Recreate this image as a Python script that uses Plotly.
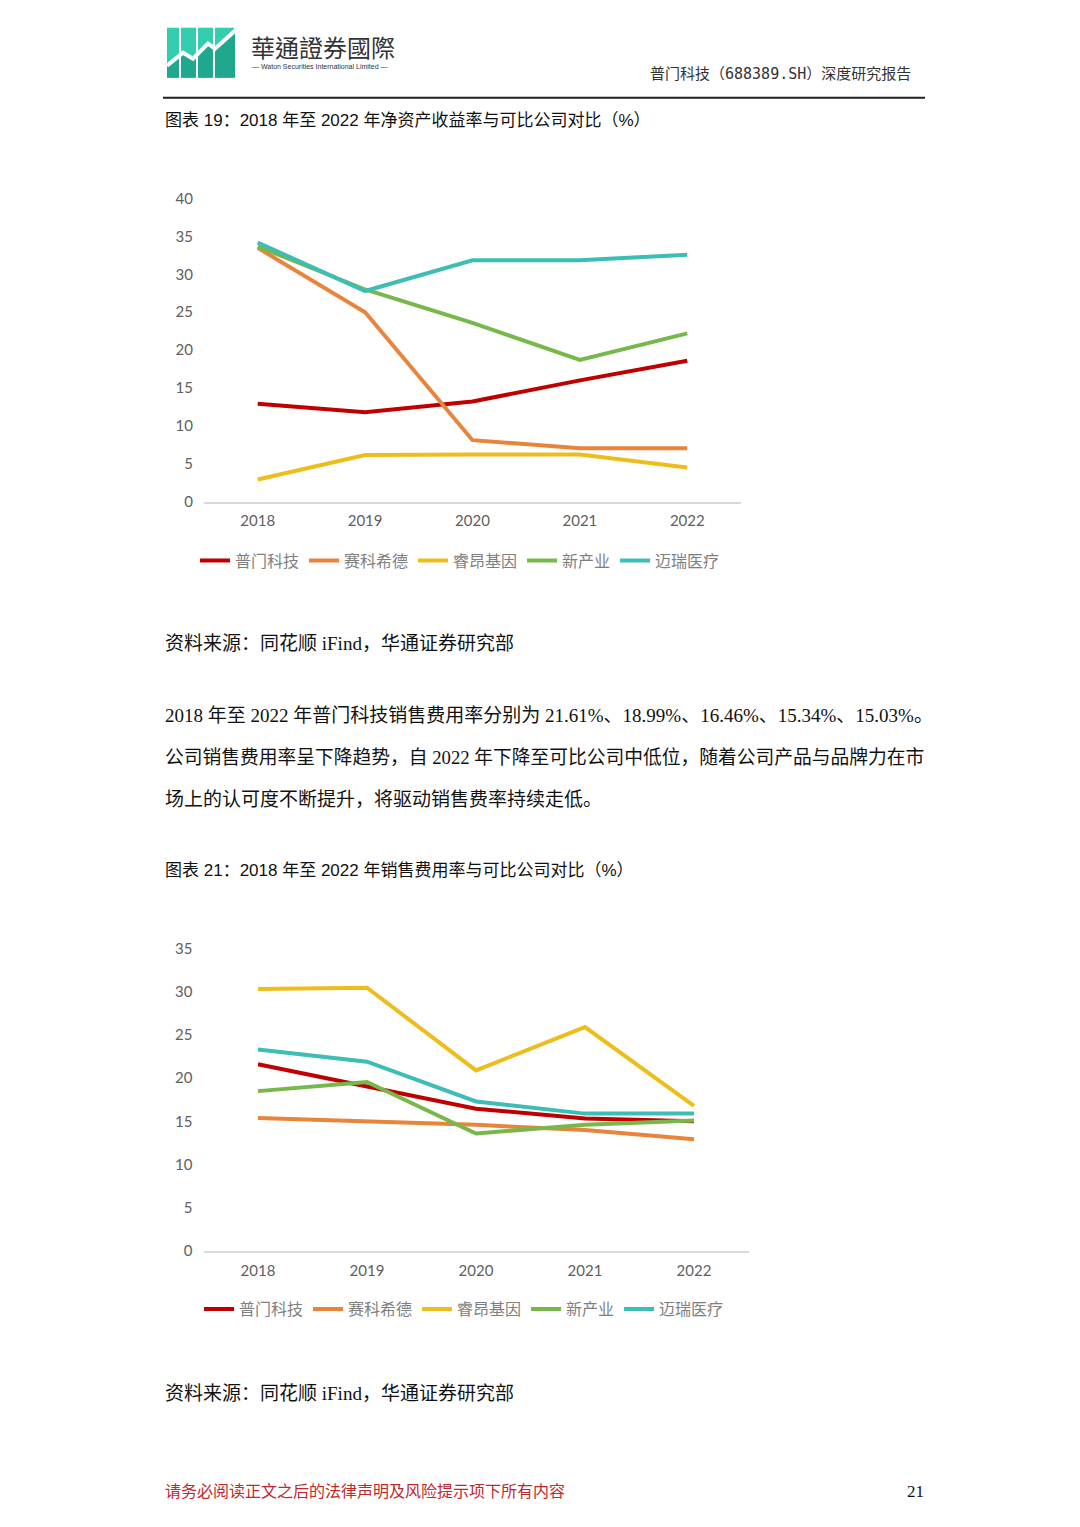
import plotly.graph_objects as go

W, H = 1080, 1527

years = ["2018", "2019", "2020", "2021", "2022"]
companies = ["普门科技", "赛科希德", "睿昂基因", "新产业", "迈瑞医疗"]
colors = ["#C00000", "#E9843C", "#EDBD1B", "#77B84A", "#3DBDB5"]

# 图表19 净资产收益率 (%)
roe_pumen = [12.9, 11.8, 13.2, 16.0, 18.6]
roe_saike = [33.5, 25.0, 8.1, 7.05, 7.05]
roe_ruiang = [2.9, 6.15, 6.2, 6.2, 4.5]
roe_xinchanye = [33.7, 28.0, 23.6, 18.7, 22.2]
roe_mairui = [34.2, 27.8, 31.85, 31.85, 32.6]

# 图表21 销售费用率 (%)
sell_pumen = [21.61, 18.99, 16.46, 15.34, 15.03]
sell_saike = [15.4, 15.0, 14.6, 14.0, 12.95]
sell_ruiang = [30.3, 30.45, 20.9, 25.9, 16.8]
sell_xinchanye = [18.5, 19.55, 13.6, 14.6, 15.1]
sell_mairui = [23.3, 21.9, 17.3, 15.9, 15.9]

roe = [roe_pumen, roe_saike, roe_ruiang, roe_xinchanye, roe_mairui]
sell = [sell_pumen, sell_saike, sell_ruiang, sell_xinchanye, sell_mairui]

CJK = "Noto Sans CJK SC"
SERIF = "Liberation Serif, " + CJK
SANS = "Liberation Sans, " + CJK


def px(x):
    return x / W


def py(y):
    # page pixel (from top) -> paper fraction; small correction for the
    # vertical squeeze seen in the captured page
    y = (y - 9.3) / 0.9886
    return 1 - y / H


fig = go.Figure()

for i, name in enumerate(companies):
    fig.add_trace(go.Scatter(x=years, y=roe[i], name=name, mode="lines",
                             line=dict(color=colors[i], width=4),
                             xaxis="x", yaxis="y", legend="legend"))
for i, name in enumerate(companies):
    fig.add_trace(go.Scatter(x=years, y=sell[i], name=name, mode="lines",
                             line=dict(color=colors[i], width=4),
                             xaxis="x2", yaxis="y2", legend="legend2"))

tickfont = dict(family="Lato, " + CJK, size=15, color="#606060")
xcommon = dict(type="category", range=[-0.5, 4.5], showgrid=False, zeroline=False,
               showline=True, linecolor="#D9D9D9", linewidth=1.5, ticks="",
               tickfont=tickfont, ticklabelstandoff=5, fixedrange=True)
ycommon = dict(showgrid=False, zeroline=False, showline=False, dtick=5,
               tickfont=tickfont, ticklabelstandoff=10, fixedrange=True)

legcommon = dict(orientation="h", xanchor="center", yanchor="middle",
                 font=dict(family=CJK, size=16, color="#7F7F7F"),
                 bgcolor="rgba(0,0,0,0)", itemwidth=30, tracegroupgap=0)

fig.update_layout(
    width=W, height=H, margin=dict(l=0, r=0, t=0, b=0),
    paper_bgcolor="white", plot_bgcolor="white",
    xaxis=dict(domain=[px(204), px(741)], anchor="y", **xcommon),
    yaxis=dict(domain=[py(501), py(198)], range=[0, 40], anchor="x", **ycommon),
    xaxis2=dict(domain=[px(203.5), px(748.5)], anchor="y2", **xcommon),
    yaxis2=dict(domain=[py(1251), py(948)], range=[0, 35], anchor="x2", **ycommon),
    legend=dict(x=px(460), y=py(560), **legcommon),
    legend2=dict(x=px(464), y=py(1309), **legcommon),
)

# text blocks
texts = [
    (163, 120, "图表 19：2018 年至 2022 年净资产收益率与可比公司对比（%）", SANS, 17, "#111111"),
    (163, 643, "资料来源：同花顺 iFind，华通证券研究部", SERIF, 19, "#111111"),
    (163, 715, "2018 年至 2022 年普门科技销售费用率分别为 21.61%、18.99%、16.46%、15.34%、15.03%。", SERIF, 19, "#111111"),
    (163, 757, "公司销售费用率呈下降趋势，自 2022 年下降至可比公司中低位，随着公司产品与品牌力在市", SERIF, 18.75, "#111111"),
    (163, 799, "场上的认可度不断提升，将驱动销售费率持续走低。", SERIF, 19, "#111111"),
    (163, 870, "图表 21：2018 年至 2022 年销售费用率与可比公司对比（%）", SANS, 17, "#111111"),
    (163, 1393, "资料来源：同花顺 iFind，华通证券研究部", SERIF, 19, "#111111"),
    (163, 1491, "请务必阅读正文之后的法律声明及风险提示项下所有内容", SERIF, 16, "#C0282D"),
    (249, 46, "華通證券國際", "Noto Sans CJK TC", 24, "#333333"),
    (250, 66, "— Waton Securities International Limited —", "Liberation Sans", 7, "#333333"),
]
for x, y, t, fam, size, col in texts:
    fig.add_annotation(x=px(x), y=py(y), xref="paper", yref="paper", text=t,
                       showarrow=False, xanchor="left", yanchor="middle",
                       font=dict(family=fam, size=size, color=col))

fig.add_annotation(x=px(926), y=py(1491), xref="paper", yref="paper", text="21",
                   showarrow=False, xanchor="right", yanchor="middle",
                   font=dict(family=SERIF, size=17, color="#111111"))
fig.add_annotation(x=px(913), y=py(73), xref="paper", yref="paper",
                   text="普门科技（688389.SH）深度研究报告",
                   showarrow=False, xanchor="right", yanchor="middle",
                   font=dict(family="DejaVu Sans Mono, " + CJK, size=15, color="#333333"))

# header rule
fig.add_shape(type="line", xref="paper", yref="paper", x0=px(163), x1=px(925),
              y0=py(97), y1=py(97), line=dict(color="#222222", width=2))

# logo
bars = [(167, 179), (181, 196), (198, 213), (215, 234)]
for x0, x1 in bars:
    fig.add_shape(type="rect", xref="paper", yref="paper", x0=px(x0), x1=px(x1),
                  y0=py(77), y1=py(27), line=dict(width=0), fillcolor="#35CDB0")
zig = [(167, 65), (183, 52), (193, 58), (208, 43), (215, 48), (235, 30)]
poly = "M " + " L ".join(f"{px(x)},{py(y)}" for x, y in zig)
poly += f" L {px(235)},{py(77)} L {px(167)},{py(77)} Z"
fig.add_shape(type="path", xref="paper", yref="paper", path=poly,
              fillcolor="#1FA88E", line=dict(width=0))
for gx in [180, 197, 214]:
    fig.add_shape(type="line", xref="paper", yref="paper", x0=px(gx), x1=px(gx),
                  y0=py(77), y1=py(27), line=dict(color="white", width=2))
line_path = "M " + " L ".join(f"{px(x)},{py(y)}" for x, y in zig)
fig.add_shape(type="path", xref="paper", yref="paper", path=line_path,
              line=dict(color="white", width=4))

pin = ("var d=document.getElementById('{plot_id}');"
       "d.style.position='fixed';d.style.top='0';d.style.left='0';"
       "document.body.style.margin='0';document.body.style.overflow='hidden';")
fig.write_html("out.html", config={"displayModeBar": False}, post_script=pin)
